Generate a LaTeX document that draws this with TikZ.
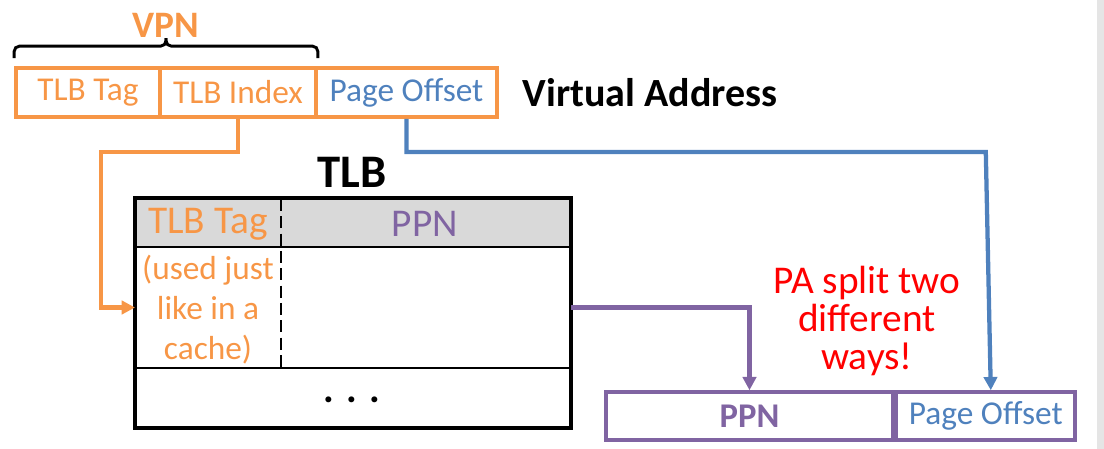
\documentclass[tikz,border=0pt]{standalone}
\usepackage{fontspec}
\setmainfont{Carlito}
\usetikzlibrary{positioning,arrows.meta,calc}

\definecolor{vaorange}{HTML}{F79646}
\definecolor{poblue}{HTML}{4F81BD}
\definecolor{ppnpurple}{HTML}{8064A2}
\definecolor{hdrgray}{HTML}{D9D9D9}

\begin{document}
\begin{tikzpicture}[
    x=0.75pt, y=-0.75pt,
    vafield/.style={
        draw=vaorange, line width=2.8pt,
        minimum height=36.75pt,
        inner sep=0pt,
        font=\fontsize{25}{30}\selectfont
    },
    pafield/.style={
        draw=ppnpurple, line width=2.6pt,
        minimum height=36pt,
        inner sep=0pt,
        fill=white,
        font=\fontsize{25}{30}\selectfont
    },
    tlbrow/.style={
        draw, line width=1.5pt,
        minimum width=325.5pt,
        inner sep=0pt
    },
    conn/.style={line width=3.2pt, -{Triangle[length=10pt,width=10pt]}},
    title/.style={font=\fontsize{30}{36}\selectfont\bfseries}
]
\useasboundingbox (0,0) rectangle (1104,449);
\fill[black!10] (1097,0) rectangle (1104,449);

% Virtual address
\node[vafield, minimum width=108pt, text=vaorange] (vtag) at (88,92.5) {TLB Tag};
\node[vafield, minimum width=117pt, text=vaorange] (vidx) at (238,92.5) {TLB Index};
\node[vafield, minimum width=135.75pt, text=poblue] (voff) at (406.5,92.5) {Page Offset};
\node[title, anchor=west] (vaddr) at (518,93) {Virtual Address};

% VPN bracket
\coordinate (bl) at ($(vtag.north west)+(0,-8)$);
\coordinate (br) at ($(vidx.north east)+(0,-8)$);
\coordinate (btip) at ($(bl)!0.5!(br)+(0,-20)$);
\draw[line width=2.2pt, rounded corners=4pt] (bl) -- ++(0,-12) -| (btip);
\draw[line width=2.2pt, rounded corners=4pt] (br) -- ++(0,-12) -| (btip);
\node[font=\fontsize{28}{32}\selectfont\bfseries, text=vaorange] (vpn) at ($(btip)+(0,-13)$) {VPN};

% TLB
\node[font=\fontsize{35}{40}\selectfont\bfseries] (tlbname) at (352,172) {TLB};
\node[tlbrow, fill=hdrgray, minimum height=36pt] (hdr) at (353,223) {};
\node[tlbrow, minimum height=90.75pt] (entry) at (353,307.5) {};
\node[tlbrow, minimum height=44.25pt] (more) at (353,397.5) {};
\draw[line width=3pt] (hdr.north west) rectangle (more.south east);
\coordinate (split) at (281,199);
\draw[line width=1.8pt, dash pattern=on 9pt off 4pt] (split) -- (split |- entry.south);

\node[text=vaorange, font=\fontsize{29.5}{34}\selectfont] (htag) at (208,224) {TLB Tag};
\node[text=ppnpurple, font=\fontsize{29.5}{34}\selectfont] (hppn) at (425,224) {PPN};
\node[text=vaorange, align=center, font=\fontsize{25}{30}\selectfont] (note) at (208,310)
    {(used just\\like in a\\cache)};
\node[font=\fontsize{30}{34}\selectfont\bfseries] (dots) at (352,400) {. . .};

% Physical address
\node[pafield, minimum width=215.25pt, text=ppnpurple, font=\fontsize{26}{30}\selectfont\bfseries] (pppn) at (749.5,416) {PPN};
\node[pafield, minimum width=134pt, text=poblue, anchor=west] (pofs) at (pppn.east) {Page Offset};

\node[text=red, align=center, font=\fontsize{29.5}{28.5}\selectfont] (split2) at (867,321)
    {PA split two\\different\\ways!};

% Connectors
\coordinate (obend) at (101,152);
\draw[conn, vaorange] (vidx.south) |- (obend) |- (entry.west);
\draw[conn, poblue] (voff.south) |- (obend -| pofs.north) -- ([xshift=3.75pt]pofs.north);
\draw[conn, ppnpurple] (entry.east) -| (pppn.north);

\end{tikzpicture}
\end{document}
